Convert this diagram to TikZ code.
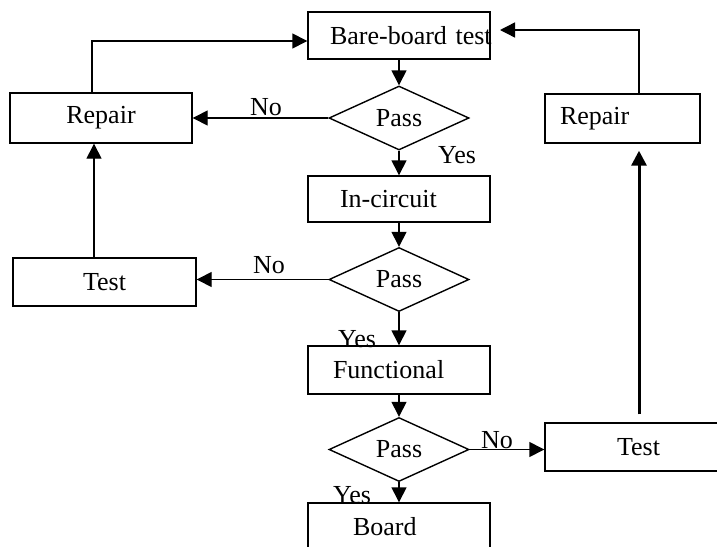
\documentclass[tikz,border=0pt]{standalone}
\usepackage{fontspec}
\setmainfont{Liberation Serif}
\usetikzlibrary{shapes.geometric,arrows.meta}
\begin{document}
\begin{tikzpicture}[x=1pt,y=-1pt,
                    line/.style={line width=1.4pt},
                    arr/.style={line,-{Triangle[length=15pt,width=15pt]}},
                    box/.style={draw,line,minimum width=182pt,minimum height=47pt,inner xsep=0pt,inner ysep=0pt},
                    lead/.style={text width=#1,align=left},
                    pass/.style={draw,line,diamond,minimum width=140pt,minimum height=64pt,inner sep=0pt},
                    every node/.style={font=\fontsize{26}{30}\selectfont}]
 \useasboundingbox (0,0) rectangle (717,546);
 % main column
 \node[box,lead=138pt] (bare) at (399,35.5) {\mbox{Bare-board test}};
 \node[pass] (passA) at (399,118) {Pass};
 \node[box,lead=118pt,minimum height=46pt] (incirc) at (399,199) {In-circuit};
 \node[pass] (passB) at (399,279.5) {Pass};
 \node[box,lead=132pt,minimum height=48pt] (func) at (399,370) {Functional};
 \node[pass] (passC) at (399,449.5) {Pass};
 \node[box,lead=92pt] (board) at (399,526.5) {Board};
 % side boxes
 \node[box,minimum height=50pt] (repL) at (101,118) {Repair};
 \node[box,minimum width=183pt,minimum height=48pt] (testL) at (104.5,282) {Test};
 \node[box,minimum width=155pt,minimum height=49pt,lead=125pt] (repR) at (622.5,118.5) {Repair};
 \node[box,minimum width=175pt,minimum height=48pt,lead=31pt] (testR) at (632.5,447) {\mbox{Test}};
 \coordinate (ltop) at (92,41);
 \coordinate (lcol) at (94,0);
 \coordinate (rtop) at (639,30);
 \coordinate (rin) at (500,30);
 % flow
 \draw[arr] (bare) -- (passA);
 \draw[arr] (passA) -- (incirc);
 \draw[arr] (incirc) -- (passB);
 \draw[arr] (passB) -- (func);
 \draw[arr] (func) -- (passC);
 \draw[arr] (passC) -- (board);
 \draw[arr] (passA) -- (repL);
 \draw[arr] (passB.west) -- (testL.east |- passB.west);
 \draw[arr] (passC.east) -- (testR.west |- passC.east);
 \draw[arr] (testL.north -| lcol) -- (repL.south -| lcol);
 \draw[arr] (repL.north -| ltop) -- (ltop) -- (bare.west |- ltop);
 \draw[arr] (repR.north -| rtop) -- (rtop) -- (rin);
 \draw[arr,line width=3pt,shorten <=8pt,shorten >=7pt] (testR.north -| rtop) -- (repR.south -| rtop);
 % labels
 \node[anchor=base] (noA) at (266,115) {No};
 \node[anchor=base] (noB) at (269,273) {No};
 \node[anchor=base] (noC) at (497,448) {No};
 \node[anchor=base] (yesA) at (457,163) {Yes};
 \node[anchor=base] (yesB) at (357,347) {Yes};
 \node[anchor=base] (yesC) at (352,503) {Yes};
\end{tikzpicture}
\end{document}
